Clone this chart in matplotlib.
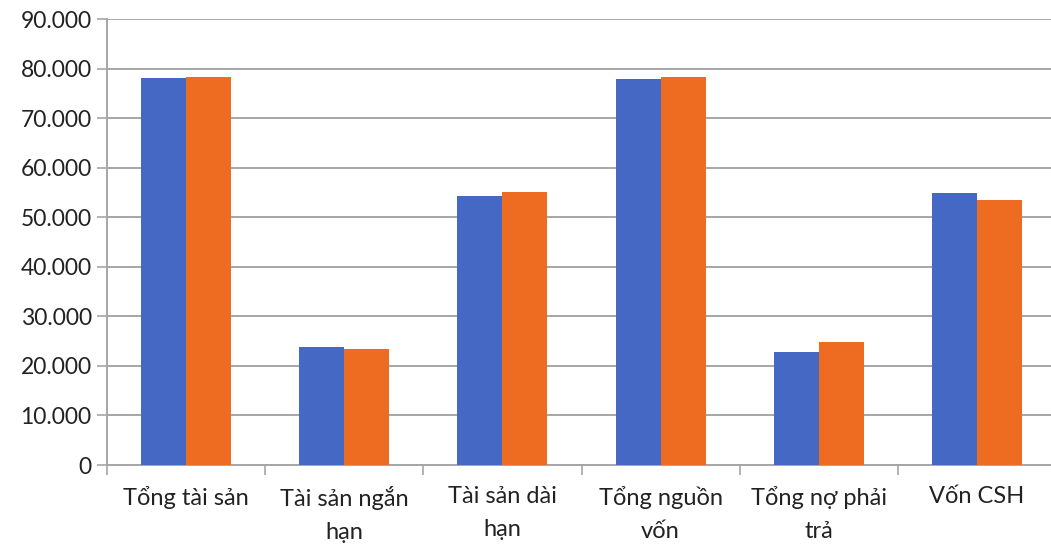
import matplotlib.pyplot as plt
import numpy as np
from matplotlib.ticker import FuncFormatter, FixedLocator

plt.rcParams["font.family"] = ["Lato", "Noto Sans", "DejaVu Sans"]

categories = ["Tổng tài sản", "Tài sản ngắn\nhạn", "Tài sản dài\nhạn",
              "Tổng nguồn\nvốn", "Tổng nợ phải\ntrả", "Vốn CSH"]
year_1 = [78000, 23750, 54200, 77900, 22900, 54900]
year_2 = [78350, 23350, 55000, 78350, 24750, 53400]

BLUE = "#4668C5"
ORANGE = "#EE6B22"
GRID = "#A6A6A6"
TEXT = "#222222"

fig = plt.figure(figsize=(10.51, 5.55), dpi=100)
ax = fig.add_axes([107 / 1051, 90 / 555, 949 / 1051, 446 / 555])

x = np.arange(len(categories))
w = 0.285
ax.bar(x - w / 2, year_1, w, color=BLUE, zorder=3)
ax.bar(x + w / 2, year_2, w, color=ORANGE, zorder=3)

ax.set_xlim(-0.5, len(categories) - 0.5)
ax.set_ylim(0, 90000)
ax.set_yticks(np.arange(0, 90001, 10000))
ax.yaxis.set_major_formatter(FuncFormatter(lambda v, _: f"{int(v):,}".replace(",", ".")))
ax.grid(axis="y", color=GRID, linewidth=1.4, zorder=0)

ax.set_xticks(x)
ax.set_xticklabels(categories, fontsize=17, linespacing=1.7, color=TEXT)
ax.xaxis.set_minor_locator(FixedLocator(np.arange(-0.5, len(categories), 1)))
ax.tick_params(axis="x", which="major", length=0, pad=15)
ax.tick_params(axis="x", which="minor", length=7, color=GRID, width=1.2)
ax.tick_params(axis="y", length=7, color=GRID, width=1.2, labelsize=16.5,
               labelcolor=TEXT, pad=4)

for side in ("top", "right"):
    ax.spines[side].set_visible(False)
for side in ("left", "bottom"):
    ax.spines[side].set_color(GRID)
    ax.spines[side].set_linewidth(1.4)

fig.savefig("out.png", dpi=100)
